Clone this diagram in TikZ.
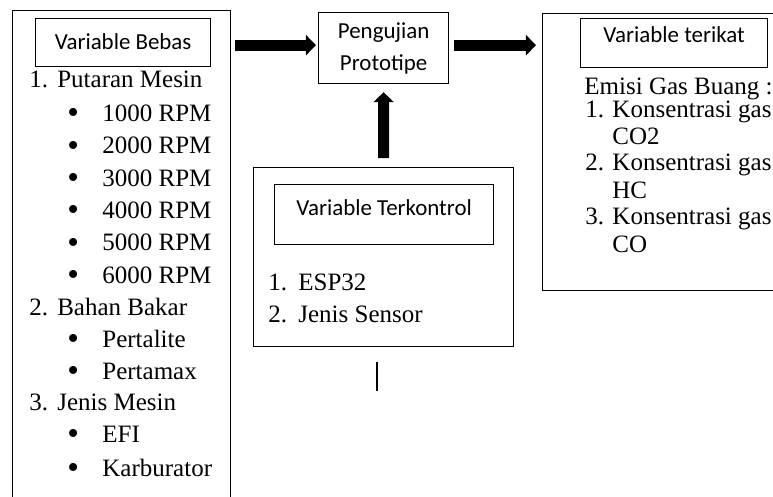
\documentclass[tikz,border=0pt]{standalone}
\usepackage{fontspec}
\setmainfont{Liberation Serif}
\newfontfamily\calibrifont{Carlito}
\usetikzlibrary{arrows.meta,calc}
\newcommand{\butir}{\makebox[16.8pt][l]{\raisebox{-1.2pt}{\fontsize{16}{16}\selectfont\textbullet}}}

\begin{document}
\begin{tikzpicture}[x=0.48pt,y=-0.48pt,
    kotak/.style={draw=black,line width=0.6pt,inner sep=0pt,anchor=north west},
    judul/.style={kotak,font=\calibrifont\fontsize{11}{15.4}\selectfont},
    teks/.style={anchor=base west,inner sep=0pt,font=\fontsize{12}{14}\selectfont},
    panah/.style={line width=5.3pt,-{Triangle[length=4.8pt,width=9.6pt]}}]
    \useasboundingbox (0,0) rectangle (773,496);
    \clip (0,0) rectangle (773,496);
    
    % Variable bebas
    \node[kotak,minimum width=104.6pt,minimum height=249.6pt] (bebas) at (12,10) {};
    \node[judul,minimum width=84pt,text height=14.9pt,text depth=8.2pt] (bebasjudul) at (35,18) {Variable Bebas};
    \node[teks] (putaran) at (29,87) {\makebox[13.4pt][l]{1.}Putaran Mesin};
    \node[teks] (rpm1) at (67,121) {\butir 1000 RPM};
    \node[teks] (rpm2) at (67,153.5) {\butir 2000 RPM};
    \node[teks] (rpm3) at (67,186) {\butir 3000 RPM};
    \node[teks] (rpm4) at (67,218) {\butir 4000 RPM};
    \node[teks] (rpm5) at (67,250.5) {\butir 5000 RPM};
    \node[teks] (rpm6) at (67,283) {\butir 6000 RPM};
    \node[teks] (bahan) at (29,315) {\makebox[13.4pt][l]{2.}Bahan Bakar};
    \node[teks] (pertalite) at (67,347) {\butir Pertalite};
    \node[teks] (pertamax) at (67,379) {\butir Pertamax};
    \node[teks] (jenis) at (29,410) {\makebox[13.4pt][l]{3.}Jenis Mesin};
    \node[teks] (efi) at (67,442) {\butir EFI};
    \node[teks] (karbu) at (67,476) {\butir Karburator};
    
    % Pengujian
    \node[judul,align=center,minimum width=62.4pt,minimum height=34.1pt] (uji) at (318,12) {Pengujian\\Prototipe};
    
    % Variable terkontrol
    \node[kotak,minimum width=124.8pt,minimum height=85.9pt] (kontrol) at (253,167) {};
    \node[judul,minimum width=105.1pt,text height=14.9pt,text depth=13.9pt] (kontroljudul) at (274,184) {Variable Terkontrol};
    \node[teks] (esp) at (268,290) {\makebox[14.4pt][l]{1.}ESP32};
    \node[teks] (sensor) at (268,322) {\makebox[14.4pt][l]{2.}Jenis Sensor};
    
    % Variable terikat
    \node[kotak,minimum width=124.8pt,minimum height=133pt] (terikat) at (542,13) {};
    \node[judul,minimum width=89.8pt,text height=11.5pt,text depth=12pt] (terikatjudul) at (580,18) {Variable terikat};
    \node[teks] (emisi) at (584,94) {Emisi Gas Buang :};
    \node[teks] (gas1) at (585,117) {\makebox[13pt][l]{1.}Konsentrasi gas};
    \node[teks] (co2) at (612,144) {CO2};
    \node[teks] (gas2) at (585,170) {\makebox[13pt][l]{2.}Konsentrasi gas};
    \node[teks] (hc) at (612,198) {HC};
    \node[teks] (gas3) at (585,224) {\makebox[13pt][l]{3.}Konsentrasi gas};
    \node[teks] (co) at (612,252) {CO};
    
    % panah
    \draw[panah,shorten <=1.9pt,shorten >=1pt] ($(bebas.east |- uji.west)+(0,-3)$) -- ($(uji.west)+(0,-3)$);
    \draw[panah,shorten <=2.4pt,shorten >=2.9pt] ($(uji.east)+(0,-3)$) -- ($(terikat.west |- uji.east)+(0,-3)$);
    \draw[panah,shorten <=4.3pt,shorten >=3.8pt] (kontrol.north) -- (uji.south);
    
    \coordinate (garisatas) at (377,362);
    \coordinate (garisbawah) at (377,391);
    \draw[line width=0.6pt] (garisatas) -- (garisbawah);
\end{tikzpicture}
\end{document}
